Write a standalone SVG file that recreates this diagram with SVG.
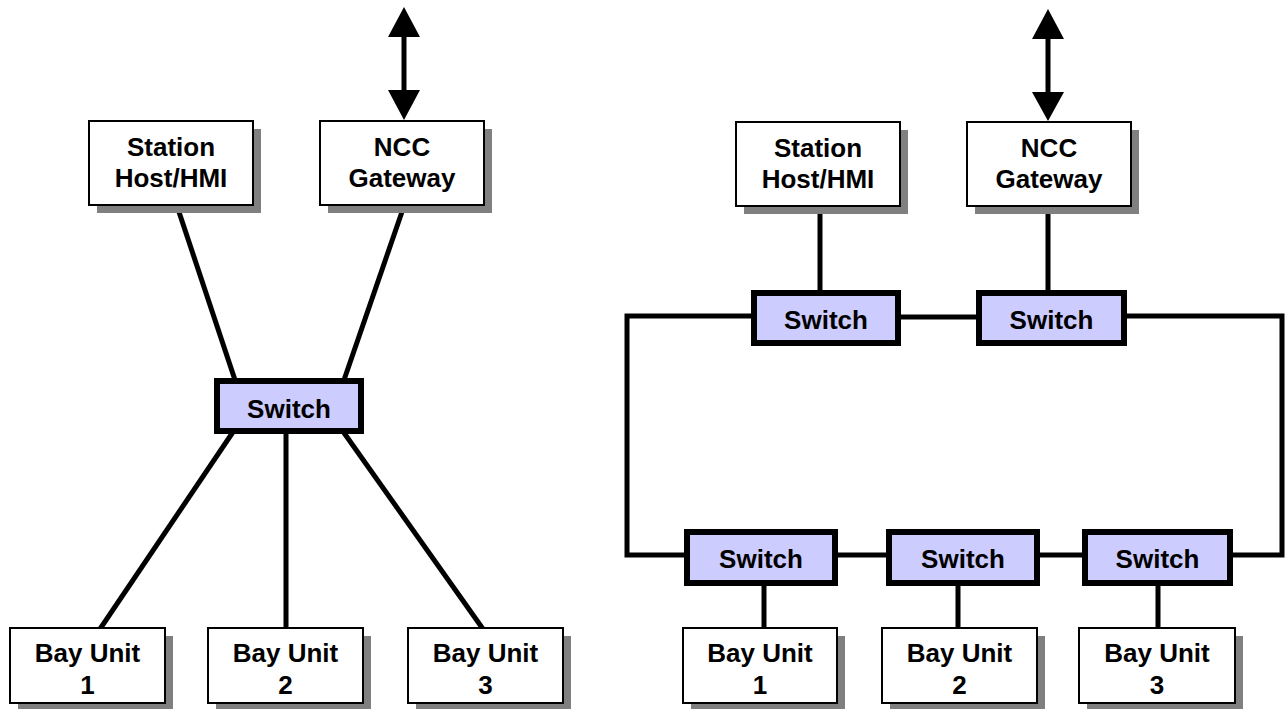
<svg xmlns="http://www.w3.org/2000/svg" width="1286" height="709" viewBox="0 0 1286 709">
<style>
.box{fill:#ffffff;stroke:#000000;stroke-width:2}
.shadow{fill:#808080}
.sw{fill:#ccccff;stroke:#000000;stroke-width:6}
.ln{stroke:#000000;stroke-width:5;fill:none}
.ar{fill:#000000}
text{font-family:"Liberation Sans",Arial,sans-serif;font-weight:bold;font-size:26px;fill:#000000;text-anchor:middle}
</style>
<rect width="1286" height="709" fill="#ffffff"/>
<g id="connectors">
<line class="ln" x1="177" y1="206" x2="235" y2="380"/>
<line class="ln" x1="404" y1="206" x2="344" y2="380"/>
<line class="ln" x1="233" y1="432" x2="100" y2="629"/>
<line class="ln" x1="286" y1="432" x2="286" y2="629"/>
<line class="ln" x1="342" y1="430" x2="483" y2="629"/>
<line class="ln" x1="404" y1="34" x2="404" y2="92"/>
<polygon class="ar" points="404,7 388,37 420,37"/>
<polygon class="ar" points="404,120 388,90 420,90"/>
<line class="ln" x1="1048" y1="36" x2="1048" y2="94"/>
<polygon class="ar" points="1048,9 1032,39 1064,39"/>
<polygon class="ar" points="1048,121 1032,92 1064,92"/>
<line class="ln" x1="820" y1="206" x2="820" y2="292"/>
<line class="ln" x1="1048" y1="206" x2="1048" y2="292"/>
<line class="ln" x1="900" y1="317" x2="977" y2="317"/>
<path class="ln" d="M752 316 H627 V555 H686"/>
<path class="ln" d="M1126 316 H1282 V555 H1232"/>
<line class="ln" x1="836" y1="555" x2="888" y2="555"/>
<line class="ln" x1="1038" y1="555" x2="1084" y2="555"/>
<line class="ln" x1="764" y1="582" x2="764" y2="629"/>
<line class="ln" x1="958" y1="582" x2="958" y2="629"/>
<line class="ln" x1="1158" y1="582" x2="1158" y2="629"/>
</g>
<g id="station-left"><rect class="shadow" x="97" y="129" width="164" height="84"/><rect class="box" x="89" y="121" width="164" height="84"/><text x="171" y="156">Station</text><text x="171" y="187">Host/HMI</text></g>
<g id="ncc-left"><rect class="shadow" x="328" y="129" width="164" height="84"/><rect class="box" x="320" y="121" width="164" height="84"/><text x="402" y="156">NCC</text><text x="402" y="187">Gateway</text></g>
<g id="switch-left"><rect class="sw" x="217" y="381" width="144" height="50"/><text x="289" y="418">Switch</text></g>
<g id="bay1-left"><rect class="shadow" x="18" y="636" width="155" height="75"/><rect class="box" x="10" y="628" width="155" height="75"/><text x="87.5" y="662">Bay Unit</text><text x="87.5" y="694">1</text></g>
<g id="bay2-left"><rect class="shadow" x="216" y="636" width="155" height="75"/><rect class="box" x="208" y="628" width="155" height="75"/><text x="285.5" y="662">Bay Unit</text><text x="285.5" y="694">2</text></g>
<g id="bay3-left"><rect class="shadow" x="416" y="636" width="155" height="75"/><rect class="box" x="408" y="628" width="155" height="75"/><text x="485.5" y="662">Bay Unit</text><text x="485.5" y="694">3</text></g>
<g id="station-right"><rect class="shadow" x="744" y="130" width="164" height="84"/><rect class="box" x="736" y="122" width="164" height="84"/><text x="818" y="157">Station</text><text x="818" y="188">Host/HMI</text></g>
<g id="ncc-right"><rect class="shadow" x="975" y="130" width="164" height="84"/><rect class="box" x="967" y="122" width="164" height="84"/><text x="1049" y="157">NCC</text><text x="1049" y="188">Gateway</text></g>
<g id="switch-r1"><rect class="sw" x="754" y="293" width="144" height="50"/><text x="826" y="329">Switch</text></g>
<g id="switch-r2"><rect class="sw" x="979" y="293" width="145" height="50"/><text x="1051.5" y="329">Switch</text></g>
<g id="switch-r3"><rect class="sw" x="687" y="532" width="148" height="51"/><text x="761" y="568">Switch</text></g>
<g id="switch-r4"><rect class="sw" x="889" y="532" width="148" height="51"/><text x="963" y="568">Switch</text></g>
<g id="switch-r5"><rect class="sw" x="1085" y="532" width="145" height="51"/><text x="1157.5" y="568">Switch</text></g>
<g id="bay1-right"><rect class="shadow" x="691" y="636" width="154" height="75"/><rect class="box" x="683" y="628" width="154" height="75"/><text x="760" y="662">Bay Unit</text><text x="760" y="694">1</text></g>
<g id="bay2-right"><rect class="shadow" x="890" y="636" width="155" height="75"/><rect class="box" x="882" y="628" width="155" height="75"/><text x="959.5" y="662">Bay Unit</text><text x="959.5" y="694">2</text></g>
<g id="bay3-right"><rect class="shadow" x="1087" y="636" width="156" height="75"/><rect class="box" x="1079" y="628" width="156" height="75"/><text x="1157" y="662">Bay Unit</text><text x="1157" y="694">3</text></g>
</svg>
